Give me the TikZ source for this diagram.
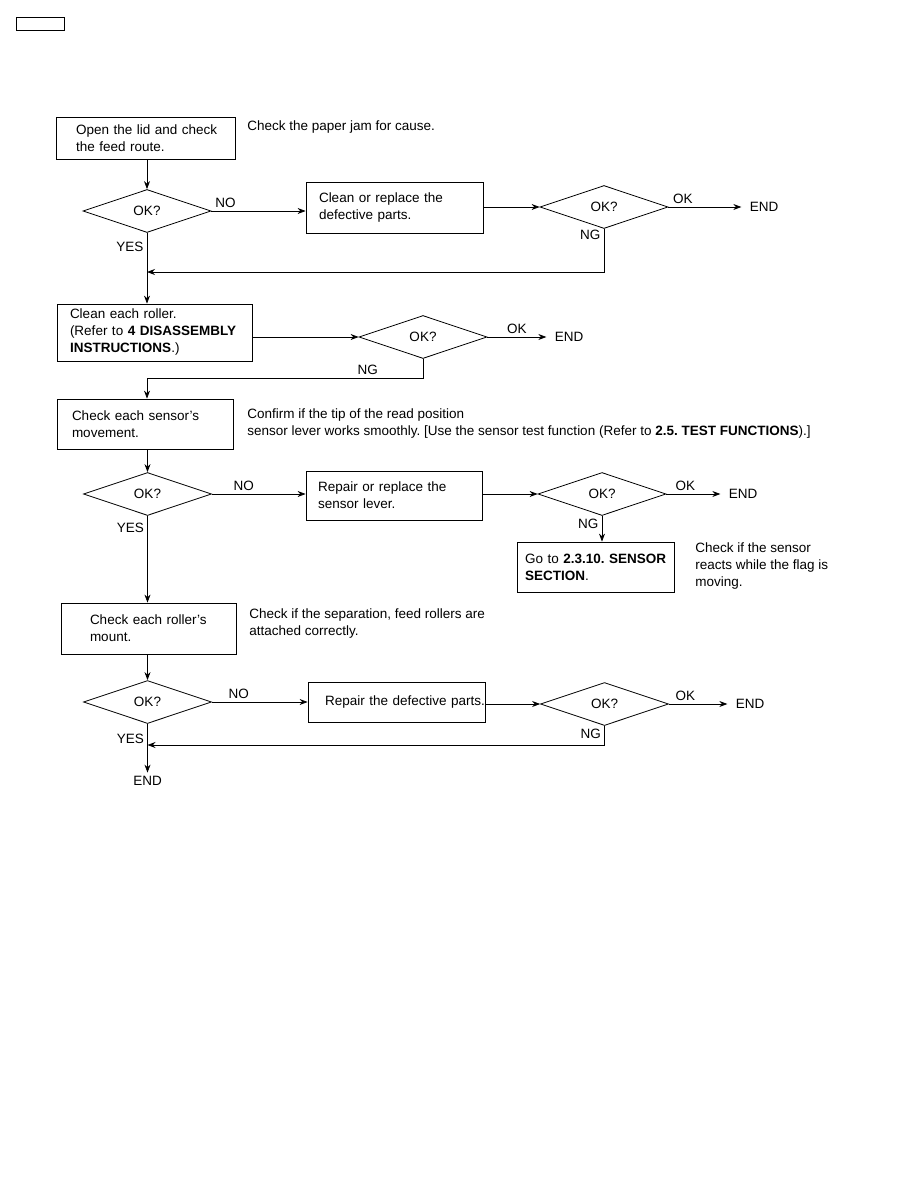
\documentclass[tikz,border=0pt]{standalone}
\usepackage{fontspec}
\setmainfont{Liberation Sans}
\usetikzlibrary{positioning}
\usetikzlibrary{shapes.geometric,arrows.meta}

\tikzset{
  procbox/.style={draw, align=left, inner ysep=0pt},
  decision/.style={draw, diamond, aspect=3, inner sep=0pt, minimum width=128pt, minimum height=43pt},
  note/.style={align=left, anchor=west, inner sep=0pt},
  endnode/.style={inner xsep=8pt},
}

\begin{document}
\frenchspacing
\begin{tikzpicture}[x=1pt,y=-1pt,line width=0.8pt,
    >={Stealth[length=8pt,width=6pt]},
    every node/.style={font=\fontsize{13.5}{17}\selectfont}]
	\fill[white] (0,0) rectangle (918,1188);
	\draw (16,17) rectangle (64,30);

	% first check
	\node[procbox, text width=139pt, inner xsep=20pt, minimum height=42pt] (open) at (145.5,138) {\mbox{Open the lid and check}\\the feed route.};
	\node[note] (ann1) at (247,127) {Check the paper jam for cause.};
	\node[decision] (dia1) at (147,211) {OK?};
	\node[procbox, text width=151pt, inner xsep=13pt, minimum height=51pt] (clean) at (394.5,207.5) {Clean or replace the\\defective parts.};
	\node[decision] (dia2) at (604,207) {OK?};
	\node[endnode] (end1) at (764,207) {END};
	\coordinate (j1) at (147,272);

	% rollers
	\node[procbox, text width=169pt, inner xsep=13pt, minimum height=57pt] (roller) at (154.5,332.5) {Clean each roller.\\\mbox{(Refer to \textbf{4 DISASSEMBLY}}\\\textbf{INSTRUCTIONS}.)};
	\node[decision] (dia3) at (423,337) {OK?};
	\node[endnode] (end2) at (569,337) {END};
	\coordinate (j2) at (147,378);

	% sensor
	\node[procbox, text width=146pt, inner xsep=15pt, minimum height=50pt] (sensor) at (145,424) {Check each sensor's\\movement.};
	\node[note] (ann4) at (247,423.5) {Confirm if the tip of the read position\\sensor lever works smoothly. [Use the sensor test function (Refer to \textbf{2.5. TEST FUNCTIONS}).]};
	\node[decision] (dia4) at (147.5,494) {OK?};
	\node[procbox, text width=152pt, inner xsep=12pt, minimum height=49pt] (lever) at (394,495.5) {Repair or replace the\\sensor lever.};
	\node[decision] (dia5) at (602,494) {OK?};
	\node[endnode] (end3) at (743,494) {END};
	\node[procbox, text width=141pt, inner xsep=8pt, minimum height=50pt] (goto) at (595.5,567) {\mbox{Go to \textbf{2.3.10. SENSOR}}\\\textbf{SECTION}.};
	\node[note] (ann6) at (695,566) {Check if the sensor\\reacts while the flag is\\moving.};

	% mount
	\node[procbox, text width=117pt, inner xsep=29pt, minimum height=51pt] (mount) at (148.5,628.5) {Check each roller's\\mount.};
	\node[note] (ann7) at (249,623.5) {Check if the separation, feed rollers are\\attached correctly.};
	\node[decision] (dia7) at (147.5,702) {OK?};
	\node[procbox, text width=143pt, inner xsep=17pt, minimum height=40pt] (repair) at (396.5,702) {\mbox{Repair the defective parts.}};
	\node[decision] (dia8) at (604.5,704) {OK?};
	\node[endnode] (end4) at (750,704) {END};
	\coordinate (j3) at (147.5,745);
	\node (end5) at (147.5,781) {END};

	\draw[->] (open.south -| dia1.north) -- (dia1.north);
	\draw[->] (dia1.east) -- node[above,pos=0.15] {NO} (dia1.east -| clean.west);
	\draw[->] (clean.east |- dia2.west) -- (dia2.west);
	\draw[->] (dia2.east) -- node[above,pos=0.2] {OK} (end1.west);
	\draw[->] (dia2.south) |- node[left,pos=0.07] {NG} (j1);
	\draw[->] (dia1.south) -- node[left,pos=0.2] {YES} (dia1.south |- roller.north);

	\draw[->] (roller.east |- dia3.west) -- (dia3.west);
	\draw[->] (dia3.east) -- node[above,pos=0.5] {OK} (end2.west);
	\draw (dia3.south) |- node[above,pos=0.6] {NG} (j2);
	\draw[->] (j2) -- (j2 |- sensor.north);

	\draw[->] (sensor.south -| dia4.north) -- (dia4.north);
	\draw[->] (dia4.east) -- node[above,pos=0.34] {NO} (dia4.east -| lever.west);
	\draw[->] (lever.east |- dia5.west) -- (dia5.west);
	\draw[->] (dia5.east) -- node[above,pos=0.35] {OK} (end3.west);
	\draw[->] (dia5.south) -- node[left,pos=0.3] {NG} (dia5.south |- goto.north);
	\draw[->] (dia4.south) -- node[left,pos=0.14] {YES} (dia4.south |- mount.north);

	\draw[->] (mount.south -| dia7.north) -- (dia7.north);
	\draw[->] (dia7.east) -- node[above,pos=0.28] {NO} (dia7.east -| repair.west);
	\draw[->] (repair.east |- dia8.west) -- (dia8.west);
	\draw[->] (dia8.east) -- node[above,pos=0.28] {OK} (end4.west);
	\draw[->] (dia8.south) |- node[left,pos=0.21] {NG} (j3);
	\draw[->] (dia7.south) -- node[left,pos=0.3] {YES} (end5.north);
\end{tikzpicture}
\end{document}
